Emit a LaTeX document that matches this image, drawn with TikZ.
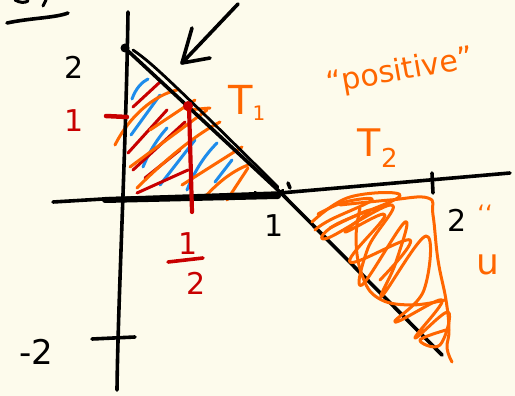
\documentclass[tikz,border=0pt]{standalone}
\usepackage{fontspec}
\setmainfont{DejaVu Sans}
\definecolor{bg}{RGB}{253,251,236}
\definecolor{org}{RGB}{255,102,0}
\definecolor{rd}{RGB}{200,0,0}
\definecolor{bl}{RGB}{30,140,235}
\begin{document}
\begin{tikzpicture}[x=1pt,y=-1pt,
  pen/.style={line width=3.6pt,line cap=round,line join=round},
  hatch/.style={line width=3pt,line cap=round,line join=round},
  lbl/.style={inner sep=0pt,font=\fontsize{30}{30}\selectfont}]
\fill[bg] (0,0) rectangle (515,396);
\useasboundingbox (0,0) rectangle (515,396);

% blue hatching
\begin{scope}[hatch,bl]
\draw (132,99) .. controls (136,88) and (142,82) .. (148,79);
\draw (131,135) -- (160,95);
\draw (143,167) .. controls (150,150) and (158,138) .. (167,128);
\draw (160,185) -- (195,140);
\draw (187,190) .. controls (195,170) and (205,155) .. (217,143);
\draw (215,182) -- (232,160);
\end{scope}
% red hatching
\begin{scope}[hatch,rd]
\draw (133,107) -- (160,82);
\draw (128,153) -- (167,110);
\draw (133,170) -- (185,122);
\draw (137,193) -- (188,170);
\draw (145,178) -- (180,150);
\end{scope}
% orange hatching T1
\begin{scope}[hatch,org]
\draw (115,145) .. controls (130,115) and (155,95) .. (177,90);
\draw (130,167) -- (207,110);
\draw (137,188) .. controls (165,160) and (195,135) .. (220,122);
\draw (182,185) -- (242,147);
\draw (205,197) .. controls (220,180) and (235,170) .. (248,165);
\draw (227,200) -- (248,168);
\draw (187,110) -- (210,108);
\draw (150,130) -- (195,100);
\end{scope}

% axes
\draw[pen] (128,12) .. controls (126,150) and (118,300) .. (117,390);
\draw[pen] (53,202) -- (103,199) -- (280,193) -- (510,173);
\draw[line width=6pt,line cap=round] (105,200) -- (278,196);
\draw[pen] (92,339) -- (135,337);
\draw[pen] (432,173) -- (433,193);
\draw[pen] (288,183) -- (290,188);
% diagonal
\draw[pen] (127,50) -- (280,192) -- (442,355);
\draw[line width=2.8pt,line cap=round] (133,50) .. controls (150,62) and (160,70) .. (278,187);
\draw[line width=2.4pt,line cap=round] (255,192) .. controls (262,200) and (275,198) .. (283,190);
\fill (125,48) circle (4.5);
% arrow
\draw[pen] (238,4) -- (182,63);
\draw[pen] (192,28) -- (182,63) -- (210,58);
% top left marks
\draw[pen] (7,23) .. controls (30,18) and (55,18) .. (68,13);
\draw[line width=3pt,line cap=round] (15,0) .. controls (20,3) and (25,3) .. (28,1);
\draw[line width=3pt,line cap=round] (43,6) -- (46,0);

% red marks
\draw[line width=4.2pt,line cap=round,rd] (189,106) -- (192,212);
\fill[rd] (188,106) circle (5);
\draw[line width=4.5pt,line cap=round,rd] (106,116) -- (127,117);

% T2 scribble
\draw[hatch,org] plot[smooth,tension=0.7] coordinates {
 (312,222) (350,197) (400,196) (335,225) (328,238) (392,205) (368,248)
 (362,285) (405,222) (396,262) (382,296) (426,236) (424,290) (395,322)
 (442,300) (415,338) (448,312) (440,345) (420,340) (446,330)};
\draw[hatch,org] plot[smooth,tension=0.7] coordinates {
 (340,205) (390,200) (428,198) (433,215) (438,260) (446,300) (449,330) (447,348) (452,362)};
\draw[hatch,org] plot[smooth,tension=0.7] coordinates {
 (360,208) (356,240) (362,275) (378,298) (410,305) (445,300)};
\draw[hatch,org] plot[smooth,tension=0.7] coordinates {
 (318,214) (345,202) (372,200) (330,220) (315,230)};
\draw[hatch,org] plot[smooth,tension=0.7] coordinates {
 (330,228) (370,210) (345,232) (385,215) (350,262) (410,240) (380,280)};

% labels
\node[lbl] (two) at (74,67) {2};
\node[lbl,font=\fontsize{34}{34}\selectfont] (mtwo) at (36,352) {-2};
\node[lbl] (one) at (274,226) {1};
\node[lbl] (twox) at (457,220) {2};
\node[lbl,org,font=\fontsize{24}{24}\selectfont] (q) at (485,214) {‘‘};
\node[lbl,org,anchor=west,font=\fontsize{36}{36}\selectfont] (u) at (476,265) {u};
\node[lbl,rd] (rone) at (74,121) {1};
\node[lbl,rd] (hnum) at (188,244) {1};
\draw[line width=3.6pt,line cap=round,rd] (168,262) -- (203,258);
\node[lbl,rd] (hden) at (196,283) {2};
\node[lbl,org,font=\fontsize{40}{40}\selectfont] (t1) at (247,103) {T\textsubscript{\fontsize{20}{20}\selectfont 1}};
\node[lbl,org,rotate=10,font=\fontsize{30}{30}\selectfont] (pos) at (400,72) {“positive”};
\node[lbl,org,font=\fontsize{38}{38}\selectfont] (t2) at (378,148) {T\textsubscript{\fontsize{26}{26}\selectfont 2}};
\end{tikzpicture}
\end{document}
